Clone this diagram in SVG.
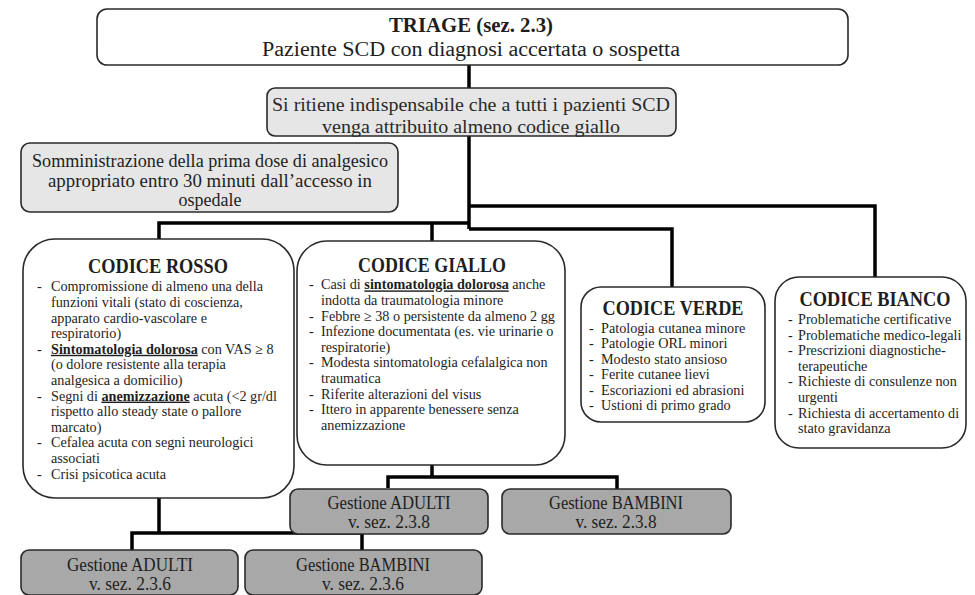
<svg xmlns="http://www.w3.org/2000/svg" width="975" height="595" viewBox="0 0 975 595">
<style>
text{font-family:"Liberation Serif","Times New Roman",serif;fill:#1e1e1e}
.box{fill:#fff;stroke:#2a2a2a;stroke-width:1.6}
.lg{fill:#e6e6e6;stroke:#2a2a2a;stroke-width:1.6}
.dg{fill:#a8a8a8;stroke:#2a2a2a;stroke-width:1.6}
.con{fill:none;stroke:#000;stroke-width:3.5}
.t{font-weight:bold}
.c{text-anchor:middle}
.b{font-size:14.2px;fill:#2a2a2a}
.bu{font-weight:bold;text-decoration:underline}
.g{font-size:19px;fill:#2a2a2a}
</style>
<g id="connectors">
<path class="con" d="M469 65V88"/>
<path class="con" d="M469 136V229"/>
<path class="con" d="M469 206H875V277"/>
<path class="con" d="M469 229H672V287"/>
<path class="con" d="M469 223H159V239"/>
<path class="con" d="M432 223V241"/>
<path class="con" d="M432 465V477"/>
<path class="con" d="M388 488V477H617V489"/>
<path class="con" d="M159 498V533"/>
<path class="con" d="M132 550V533H362V550"/>
</g>
<g id="triage">
<rect class="box" x="97" y="9" width="751" height="56" rx="10"/>
<text class="t c" x="471" y="32" font-size="21" textLength="164" lengthAdjust="spacingAndGlyphs">TRIAGE (sez. 2.3)</text>
<text class="c" x="471" y="56" font-size="20" textLength="418" lengthAdjust="spacingAndGlyphs">Paziente SCD con diagnosi accertata o sospetta</text>
</g>
<g id="giallo-min">
<rect class="lg" x="267" y="88" width="409" height="48" rx="8"/>
<text class="c g" x="471" y="111" textLength="398" lengthAdjust="spacingAndGlyphs">Si ritiene indispensabile che a tutti i pazienti SCD</text>
<text class="c g" x="471" y="133" textLength="298" lengthAdjust="spacingAndGlyphs">venga attribuito almeno codice giallo</text>
</g>
<g id="analgesico">
<rect class="lg" x="21" y="143" width="377" height="69" rx="9"/>
<text class="c" x="210" y="167" font-size="18" textLength="356" lengthAdjust="spacingAndGlyphs">Somministrazione della prima dose di analgesico</text>
<text class="c" x="210" y="187" font-size="18" textLength="324" lengthAdjust="spacingAndGlyphs">appropriato entro 30 minuti dall’accesso in</text>
<text class="c" x="210" y="206" font-size="18">ospedale</text>
</g>
<g id="rosso">
<rect class="box" x="23" y="239" width="271" height="259" rx="32"/>
<text class="t c" x="158" y="273" font-size="20" textLength="140" lengthAdjust="spacingAndGlyphs">CODICE ROSSO</text>
<g class="b">
<text x="37" y="291.4">-</text><text x="51" y="291.4">Compromissione di almeno una della</text>
<text x="51" y="307">funzioni vitali (stato di coscienza,</text>
<text x="51" y="322.6">apparato cardio-vascolare e</text>
<text x="51" y="338.2">respiratorio)</text>
<text x="37" y="353.8">-</text><text x="51" y="353.8"><tspan class="bu">Sintomatologia dolorosa</tspan> con VAS ≥ 8</text>
<text x="51" y="369.4">(o dolore resistente alla terapia</text>
<text x="51" y="385">analgesica a domicilio)</text>
<text x="37" y="400.6">-</text><text x="51" y="400.6">Segni di <tspan class="bu">anemizzazione</tspan> acuta (&lt;2 gr/dl</text>
<text x="51" y="416.2">rispetto allo steady state o pallore</text>
<text x="51" y="431.8">marcato)</text>
<text x="37" y="447.4">-</text><text x="51" y="447.4">Cefalea acuta con segni neurologici</text>
<text x="51" y="463">associati</text>
<text x="37" y="478.6">-</text><text x="51" y="478.6">Crisi psicotica acuta</text>
</g>
</g>
<g id="giallo">
<rect class="box" x="297" y="241" width="268" height="224" rx="30"/>
<text class="t c" x="432" y="272" font-size="20" textLength="148" lengthAdjust="spacingAndGlyphs">CODICE GIALLO</text>
<g class="b">
<text x="309" y="289.4">-</text><text x="321" y="289.4">Casi di <tspan class="bu">sintomatologia dolorosa</tspan> anche</text>
<text x="321" y="305">indotta da traumatologia minore</text>
<text x="309" y="320.6">-</text><text x="321" y="320.6">Febbre ≥ 38 o persistente da almeno 2 gg</text>
<text x="309" y="336.2">-</text><text x="321" y="336.2">Infezione documentata (es. vie urinarie o</text>
<text x="321" y="351.8">respiratorie)</text>
<text x="309" y="367.4">-</text><text x="321" y="367.4">Modesta sintomatologia cefalalgica non</text>
<text x="321" y="383">traumatica</text>
<text x="309" y="398.6">-</text><text x="321" y="398.6">Riferite alterazioni del visus</text>
<text x="309" y="414.2">-</text><text x="321" y="414.2">Ittero in apparente benessere senza</text>
<text x="321" y="429.8">anemizzazione</text>
</g>
</g>
<g id="verde">
<rect class="box" x="581" y="287" width="184" height="135" rx="20"/>
<text class="t c" x="673" y="315" font-size="20" textLength="141" lengthAdjust="spacingAndGlyphs">CODICE VERDE</text>
<g class="b">
<text x="589" y="333">-</text><text x="601" y="333">Patologia cutanea minore</text>
<text x="589" y="348.4">-</text><text x="601" y="348.4">Patologie ORL minori</text>
<text x="589" y="363.8">-</text><text x="601" y="363.8">Modesto stato ansioso</text>
<text x="589" y="379.2">-</text><text x="601" y="379.2">Ferite cutanee lievi</text>
<text x="589" y="394.6">-</text><text x="601" y="394.6">Escoriazioni ed abrasioni</text>
<text x="589" y="410">-</text><text x="601" y="410">Ustioni di primo grado</text>
</g>
</g>
<g id="bianco">
<rect class="box" x="775" y="277" width="191" height="171" rx="24"/>
<text class="t c" x="875" y="306" font-size="20" textLength="151" lengthAdjust="spacingAndGlyphs">CODICE BIANCO</text>
<g class="b">
<text x="788" y="324">-</text><text x="798" y="324">Problematiche certificative</text>
<text x="788" y="339.6">-</text><text x="798" y="339.6">Problematiche medico-legali</text>
<text x="788" y="355.2">-</text><text x="798" y="355.2">Prescrizioni diagnostiche-</text>
<text x="798" y="370.8">terapeutiche</text>
<text x="788" y="386.4">-</text><text x="798" y="386.4">Richieste di consulenze non</text>
<text x="798" y="402">urgenti</text>
<text x="788" y="417.6">-</text><text x="798" y="417.6">Richiesta di accertamento di</text>
<text x="798" y="433.2">stato gravidanza</text>
</g>
</g>
<g id="adulti-238">
<rect class="dg" x="290" y="489" width="198" height="45" rx="8"/>
<text class="c" x="389" y="509" font-size="18" textLength="123" lengthAdjust="spacingAndGlyphs">Gestione ADULTI</text>
<text class="c" x="389" y="528" font-size="18" textLength="82" lengthAdjust="spacingAndGlyphs">v. sez. 2.3.8</text>
</g>
<g id="bambini-238">
<rect class="dg" x="502" y="489" width="229" height="45" rx="8"/>
<text class="c" x="616" y="509" font-size="18" textLength="134" lengthAdjust="spacingAndGlyphs">Gestione BAMBINI</text>
<text class="c" x="616" y="528" font-size="18" textLength="81" lengthAdjust="spacingAndGlyphs">v. sez. 2.3.8</text>
</g>
<g id="adulti-236">
<rect class="dg" x="21" y="550" width="217" height="45" rx="8"/>
<text class="c" x="130" y="571" font-size="18" textLength="126" lengthAdjust="spacingAndGlyphs">Gestione ADULTI</text>
<text class="c" x="130" y="590" font-size="18" textLength="82" lengthAdjust="spacingAndGlyphs">v. sez. 2.3.6</text>
</g>
<g id="bambini-236">
<rect class="dg" x="245" y="550" width="237" height="45" rx="8"/>
<text class="c" x="363" y="571" font-size="18" textLength="134" lengthAdjust="spacingAndGlyphs">Gestione BAMBINI</text>
<text class="c" x="363" y="590" font-size="18" textLength="82" lengthAdjust="spacingAndGlyphs">v. sez. 2.3.6</text>
</g>
</svg>
